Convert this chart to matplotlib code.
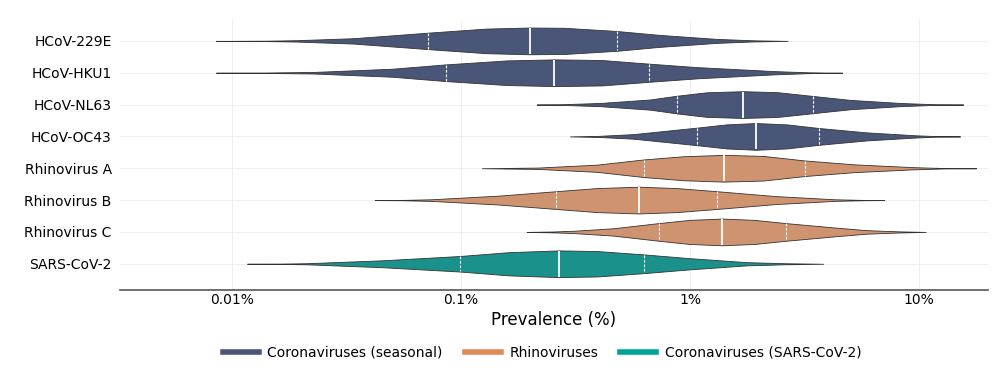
import numpy as np
import matplotlib

matplotlib.use("Agg")
import matplotlib.pyplot as plt
from matplotlib.lines import Line2D

# rows, top to bottom
viruses = ["HCoV-229E", "HCoV-HKU1", "HCoV-NL63", "HCoV-OC43",
           "Rhinovirus A", "Rhinovirus B", "Rhinovirus C", "SARS-CoV-2"]
groups = ["seasonal", "seasonal", "seasonal", "seasonal",
          "rhino", "rhino", "rhino", "sars"]

# quartiles of prevalence (%)
q1 = [0.072, 0.086, 0.88, 1.07, 0.63, 0.26, 0.73, 0.099]
median = [0.20, 0.255, 1.70, 1.94, 1.41, 0.60, 1.38, 0.268]
q3 = [0.48, 0.66, 3.44, 3.66, 3.18, 1.31, 2.62, 0.63]

# density profiles: log10(prevalence %) and relative width
profile_log = [
    [-2.07, -1.85, -1.72, -1.47, -1.14, -0.89, -0.70, -0.55, -0.32, -0.135, 0.116, 0.28, 0.426],
    [-2.07, -1.85, -1.64, -1.30, -1.07, -0.80, -0.59, -0.385, -0.18, 0.03, 0.37, 0.52, 0.664],
    [-0.67, -0.55, -0.393, -0.175, -0.058, 0.073, 0.23, 0.379, 0.539, 0.699, 0.917, 1.06, 1.193],
    [-0.524, -0.40, -0.248, 0.032, 0.16, 0.288, 0.422, 0.562, 0.771, 0.989, 1.08, 1.179],
    [-0.909, -0.664, -0.406, -0.201, -0.026, 0.148, 0.32, 0.502, 0.718, 0.977, 1.11, 1.249],
    [-1.377, -1.25, -1.131, -0.837, -0.588, -0.405, -0.222, -0.06, 0.12, 0.372, 0.631, 0.75, 0.847],
    [-0.714, -0.60, -0.505, -0.338, -0.137, -0.003, 0.141, 0.281, 0.418, 0.625, 0.771, 0.917, 1.029],
    [-1.934, -1.80, -1.675, -1.341, -1.006, -0.789, -0.572, -0.405, -0.201, -0.003, 0.247, 0.414, 0.581],
]
profile_width = [
    [0, 0.015, 0.05, 0.2, 0.62, 0.92, 1.0, 0.98, 0.74, 0.45, 0.15, 0.04, 0],
    [0, 0.015, 0.06, 0.3, 0.62, 0.92, 1.0, 0.95, 0.68, 0.42, 0.12, 0.03, 0],
    [0, 0.03, 0.12, 0.38, 0.66, 0.92, 1.0, 0.93, 0.64, 0.35, 0.12, 0.03, 0],
    [0, 0.04, 0.17, 0.66, 0.9, 1.0, 0.9, 0.63, 0.3, 0.08, 0.02, 0],
    [0, 0.05, 0.27, 0.66, 0.9, 1.0, 0.92, 0.58, 0.29, 0.08, 0.015, 0],
    [0, 0.015, 0.06, 0.33, 0.66, 0.9, 1.0, 0.9, 0.66, 0.3, 0.06, 0.015, 0],
    [0, 0.03, 0.09, 0.27, 0.66, 0.9, 1.0, 0.9, 0.66, 0.34, 0.13, 0.04, 0],
    [0, 0.01, 0.04, 0.26, 0.58, 0.87, 1.0, 0.95, 0.7, 0.42, 0.12, 0.04, 0],
]

tick_values = [0.01, 0.1, 1, 10]
tick_labels = ["0.01%", "0.1%", "1%", "10%"]

legend_labels = {"seasonal": "Coronaviruses (seasonal)",
                 "rhino": "Rhinoviruses",
                 "sars": "Coronaviruses (SARS-CoV-2)"}
legend_colors = {"seasonal": "#4a5578", "rhino": "#e08a55", "sars": "#00a39a"}
fill_colors = {"seasonal": "#4a5677", "rhino": "#cf936f", "sars": "#1b918c"}

VIOLIN_W = 0.84

fig = plt.figure(figsize=(10, 3.75), dpi=100)
ax = fig.add_axes([0.12, 0.227, 0.868, 0.72])
ax.set_xscale("log")

stats = []
for i in range(len(viruses)):
    coords = 10 ** np.array(profile_log[i])
    stats.append({
        "coords": coords,
        "vals": np.array(profile_width[i], dtype=float),
        "mean": median[i],
        "median": median[i],
        "min": coords.min(),
        "max": coords.max(),
        "quantiles": [],
    })

positions = list(range(len(viruses)))
parts = ax.violin(stats, positions=positions, orientation="horizontal",
                  widths=VIOLIN_W, showmeans=False, showextrema=False,
                  showmedians=False)
for body, g in zip(parts["bodies"], groups):
    body.set_facecolor(fill_colors[g])
    body.set_edgecolor("#333333")
    body.set_linewidth(0.6)
    body.set_alpha(1)
    body.set_zorder(2)

# quartile lines inside the violins
for i, pos in enumerate(positions):
    lp = np.array(profile_log[i])
    wp = np.array(profile_width[i])
    for val, ls, lw in [(q1[i], (0, (2.5, 1.5)), 0.8),
                        (median[i], "-", 1.3),
                        (q3[i], (0, (2.5, 1.5)), 0.8)]:
        h = np.interp(np.log10(val), lp, wp) * VIOLIN_W / 2 * 0.97
        ax.plot([val, val], [pos - h, pos + h], color="white", lw=lw,
                linestyle=ls, zorder=3, solid_capstyle="butt")

ax.set_yticks(positions)
ax.set_yticklabels(viruses, fontsize=10)
ax.set_ylim(len(viruses) - 1 + 0.82, -0.66)
ax.set_xlim(10 ** -2.489, 10 ** 1.301)
ax.set_xticks(tick_values)
ax.set_xticklabels(tick_labels, fontsize=10)
ax.xaxis.set_minor_locator(matplotlib.ticker.NullLocator())
ax.tick_params(axis="y", length=0, pad=6)
ax.tick_params(axis="x", length=0, pad=2)
ax.set_xlabel("Prevalence (%)", fontsize=12, labelpad=3)

ax.grid(True, color="#ececec", linewidth=0.6)
ax.set_axisbelow(True)
for side in ["top", "right", "left"]:
    ax.spines[side].set_visible(False)
ax.spines["bottom"].set_color("#555555")
ax.spines["bottom"].set_linewidth(1.2)

handles = [Line2D([0], [0], color=legend_colors[k], lw=4) for k in legend_labels]
fig.legend(handles, list(legend_labels.values()), loc="center",
           bbox_to_anchor=(0.542, 0.059), ncol=3, frameon=False, fontsize=10,
           handlelength=2.6, columnspacing=1.6, handletextpad=0.6)

fig.savefig("out.png", dpi=100)
